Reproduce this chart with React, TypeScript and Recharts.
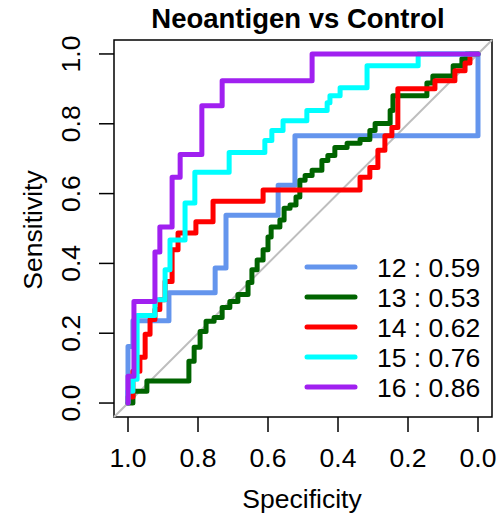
import React from "react";
import { LineChart, Line, XAxis, YAxis, ReferenceArea, Legend } from "recharts";

// axis ticks
const specTicks = [1, 0.8, 0.6, 0.4, 0.2, 0];
const sensTicks = [0, 0.2, 0.4, 0.6, 0.8, 1];

// ROC corner points (specificity, sensitivity)
const spec12 = [1, 0.986, 0.883, 0.751, 0.72, 0.571, 0.523, 0, 0];
const sens12 = [0, 0.162, 0.236, 0.316, 0.387, 0.538, 0.624, 0.766, 1];

const spec13 = [1, 0.986, 0.946, 0.826, 0.811, 0.794, 0.777, 0.754, 0.731, 0.709, 0.686, 0.657, 0.646, 0.631, 0.614, 0.6, 0.591, 0.566, 0.554, 0.537, 0.52, 0.509, 0.494, 0.474, 0.446, 0.429, 0.409, 0.374, 0.337, 0.309, 0.294, 0.251, 0.243, 0.146, 0.129, 0.071, 0.046, 0.034, 0];
const sens13 = [0, 0, 0.034, 0.063, 0.12, 0.16, 0.205, 0.234, 0.245, 0.274, 0.291, 0.311, 0.345, 0.382, 0.41, 0.439, 0.476, 0.504, 0.524, 0.558, 0.567, 0.59, 0.638, 0.652, 0.667, 0.695, 0.709, 0.732, 0.744, 0.755, 0.781, 0.801, 0.838, 0.88, 0.917, 0.937, 0.966, 0.986, 1];

const spec14 = [1, 0.986, 0.966, 0.951, 0.937, 0.923, 0.909, 0.894, 0.874, 0.857, 0.806, 0.757, 0.614, 0.337, 0.309, 0.286, 0.266, 0.246, 0.229, 0.123, 0.066, 0.037, 0.023, 0];
const sens14 = [0, 0.017, 0.091, 0.131, 0.197, 0.239, 0.268, 0.296, 0.348, 0.439, 0.487, 0.519, 0.578, 0.61, 0.647, 0.675, 0.724, 0.766, 0.789, 0.9, 0.923, 0.952, 0.974, 1];

const spec15 = [1, 0.986, 0.974, 0.923, 0.894, 0.88, 0.837, 0.809, 0.711, 0.609, 0.589, 0.557, 0.489, 0.431, 0.423, 0.394, 0.317, 0.171, 0];
const sens15 = [0, 0.034, 0.068, 0.251, 0.296, 0.382, 0.467, 0.573, 0.661, 0.718, 0.752, 0.781, 0.809, 0.838, 0.86, 0.88, 0.903, 0.966, 1];

const spec16 = [1, 0.983, 0.923, 0.909, 0.874, 0.851, 0.789, 0.731, 0.474, 0];
const sens16 = [0, 0.077, 0.291, 0.433, 0.504, 0.647, 0.712, 0.852, 0.923, 1];

// chance line
const diagSpec = [1.04, -0.04];
const diagSens = [-0.04, 1.04];

const seriesNames = ["12", "13", "14", "15", "16"];
const aucValues = ["0.59", "0.53", "0.62", "0.76", "0.86"];
const seriesColors = ["#6495ED", "#006400", "#FF0000", "#00FFFF", "#A020F0"];

const font = "'Liberation Sans', Arial, Helvetica, sans-serif";

const toPoints = (spec: number[], sens: number[]) =>
  spec.map((s, i) => ({ spec: s, sens: sens[i] }));

const curves = [
  toPoints(spec12, sens12),
  toPoints(spec13, sens13),
  toPoints(spec14, sens14),
  toPoints(spec15, sens15),
  toPoints(spec16, sens16),
];

const YTick = (props: any) => {
  const { y, payload } = props;
  return (
    <text
      x={80}
      y={y}
      transform={`rotate(-90, 80, ${y})`}
      textAnchor="middle"
      fontSize={26.5}
      fontFamily={font}
      fill="#000"
    >
      {Number(payload.value).toFixed(1)}
    </text>
  );
};

const LegendBox = () => (
  <svg width={200} height={160}>
    {seriesNames.map((name, i) => (
      <g key={name}>
        <line
          x1={9}
          x2={57}
          y1={19 + i * 30}
          y2={19 + i * 30}
          stroke={seriesColors[i]}
          strokeWidth={5}
          strokeLinecap="round"
        />
        <text x={79} y={28.5 + i * 30} fontSize={26.5} fontFamily={font} fill="#000">
          {name} : {aucValues[i]}
        </text>
      </g>
    ))}
  </svg>
);

export default function App() {
  return (
    <div style={{ position: "absolute", left: 0, top: 0 }}>
      <LineChart width={497} height={516} margin={{ top: 40, right: 5, left: 0, bottom: 0 }}>
        <XAxis
          type="number"
          dataKey="spec"
          domain={[-0.04, 1.04]}
          reversed
          ticks={specTicks}
          interval={0}
          tickFormatter={(v: number) => v.toFixed(1)}
          height={99}
          tickSize={15}
          tickMargin={16}
          axisLine={false}
          tickLine={{ stroke: "#000", strokeWidth: 1.5 }}
          tick={{ fill: "#000", fontSize: 26.5, fontFamily: font }}
        />
        <YAxis
          type="number"
          dataKey="sens"
          domain={[-0.04, 1.04]}
          ticks={sensTicks}
          interval={0}
          width={114}
          tickSize={15}
          axisLine={false}
          tickLine={{ stroke: "#000", strokeWidth: 1.5 }}
          tick={<YTick />}
        />
        <Line
          data={toPoints(diagSpec, diagSens)}
          dataKey="sens"
          type="linear"
          stroke="#BEBEBE"
          strokeWidth={2}
          dot={false}
          activeDot={false}
          isAnimationActive={false}
        />
        {curves.map((pts, i) => (
          <Line
            key={seriesNames[i]}
            data={pts}
            dataKey="sens"
            type="stepBefore"
            stroke={seriesColors[i]}
            strokeWidth={5}
            strokeLinejoin="round"
            strokeLinecap="round"
            dot={false}
            activeDot={false}
            isAnimationActive={false}
          />
        ))}
        <ReferenceArea
          x1={-0.04}
          x2={1.04}
          y1={-0.04}
          y2={1.04}
          fill="none"
          stroke="#000"
          strokeWidth={1.5}
        />
        <Legend
          layout="vertical"
          align="center"
          verticalAlign="middle"
          wrapperStyle={{ left: 298, top: 248, width: 200, height: 160 }}
          content={() => <LegendBox />}
        />
        <text x={298} y={28} textAnchor="middle" fontSize={27.5} fontWeight="bold" fontFamily={font} fill="#000">
          Neoantigen vs Control
        </text>
        <text x={302} y={508} textAnchor="middle" fontSize={26.5} fontFamily={font} fill="#000">
          Specificity
        </text>
        <text
          x={42}
          y={230}
          transform="rotate(-90, 42, 230)"
          textAnchor="middle"
          fontSize={26.5}
          fontFamily={font}
          fill="#000"
        >
          Sensitivity
        </text>
      </LineChart>
    </div>
  );
}
